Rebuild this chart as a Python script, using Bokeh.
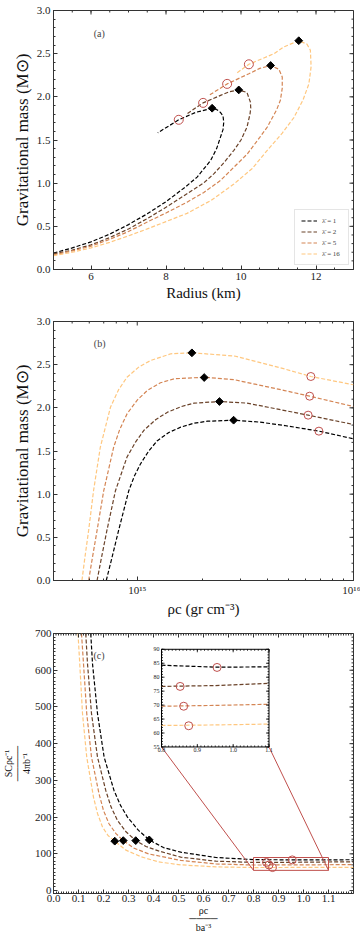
import numpy as np
from bokeh.plotting import figure
from bokeh.layouts import column
from bokeh.models import (Range1d, SingleIntervalTicker, FixedTicker,
                          PrintfTickFormatter, CustomJSTickFormatter, Label)
from bokeh.embed import file_html
from bokeh.resources import INLINE

# ---------------- data ----------------
lambda_labels = ["1", "2", "5", "16"]
colors = ["#000000", "#6a4229", "#d48554", "#ffc77f"]
red = "#c0504d"

# (a) mass-radius
R_1 = [5.0, 5.5, 6.0, 6.5, 7.0, 7.5, 8.0, 8.5, 8.83, 9.19, 9.35, 9.45, 9.52, 9.54, 9.52, 9.45, 9.36, 9.23, 8.79, 8.34, 7.78]
M_1 = [0.19, 0.25, 0.32, 0.41, 0.52, 0.645, 0.785, 0.95, 1.07, 1.263, 1.40, 1.53, 1.62, 1.706, 1.78, 1.82, 1.85, 1.868, 1.82, 1.734, 1.583]
R_2 = [5.0, 5.5, 6.0, 6.5, 7.0, 7.5, 8.0, 8.56, 9.0, 9.28, 9.55, 9.81, 10.0, 10.16, 10.24, 10.26, 10.25, 10.16, 9.94, 9.7, 9.47, 8.99, 8.55]
M_2 = [0.18, 0.225, 0.285, 0.37, 0.47, 0.59, 0.72, 0.877, 1.0, 1.11, 1.24, 1.38, 1.50, 1.65, 1.80, 1.87, 1.94, 2.05, 2.08, 2.06, 2.02, 1.93, 1.80]
R_5 = [5.0, 5.5, 6.0, 6.5, 7.0, 7.5, 8.0, 8.56, 9.0, 9.45, 9.8, 10.17, 10.5, 10.7, 10.95, 11.05, 11.1, 11.1, 11.01, 10.79, 10.5, 10.21, 9.63, 9.14]
M_5 = [0.17, 0.215, 0.27, 0.35, 0.44, 0.55, 0.655, 0.78, 0.89, 1.03, 1.18, 1.34, 1.53, 1.65, 1.85, 1.96, 2.10, 2.23, 2.32, 2.363, 2.33, 2.267, 2.15, 2.015]
R_16 = [5.0, 5.5, 6.0, 6.5, 7.0, 7.5, 8.0, 8.56, 9.2, 9.81, 10.3, 10.7, 11.1, 11.41, 11.65, 11.81, 11.87, 11.85, 11.76, 11.54, 11.15, 10.88, 10.21, 9.9]
M_16 = [0.16, 0.20, 0.25, 0.315, 0.39, 0.47, 0.555, 0.65, 0.80, 0.99, 1.17, 1.38, 1.58, 1.76, 1.96, 2.15, 2.35, 2.54, 2.61, 2.65, 2.58, 2.50, 2.377, 2.28]
a_max_R = [9.23, 9.94, 10.79, 11.54]
a_max_M = [1.868, 2.08, 2.363, 2.65]
a_circ_R = [8.34, 8.99, 9.63, 10.21]
a_circ_M = [1.734, 1.93, 2.15, 2.377]

# (b) mass - central density
rho_1 = [7.19e14, 7.65e14, 8.20e14, 9.14e14, 9.7e14, 1.035e15, 1.13e15, 1.239e15, 1.4e15, 1.589e15, 1.83e15, 2.118e15, 2.786e15, 3.7e15, 4.81e15, 6.92e15, 1.0e16]
Mb_1 = [0.0, 0.27, 0.58, 1.04, 1.21, 1.35, 1.50, 1.62, 1.715, 1.776, 1.822, 1.845, 1.857, 1.834, 1.795, 1.73, 1.641]
rho_2 = [6.52e14, 6.84e14, 7.24e14, 7.93e14, 8.97e14, 9.8e14, 1.074e15, 1.22e15, 1.380e15, 1.6e15, 1.832e15, 2.404e15, 3.2e15, 4.03e15, 6.17e15, 1.0e16]
Mb_2 = [0.0, 0.27, 0.58, 1.04, 1.43, 1.60, 1.74, 1.865, 1.95, 2.015, 2.054, 2.073, 2.055, 2.007, 1.915, 1.807]
rho_5 = [5.96e14, 6.21e14, 6.52e14, 7.00e14, 7.78e14, 8.3e14, 8.97e14, 1.0e15, 1.112e15, 1.28e15, 1.479e15, 2.042e15, 2.818e15, 4.81e15, 6.27e15, 1.0e16]
Mb_5 = [0.0, 0.27, 0.58, 1.04, 1.544, 1.75, 1.93, 2.09, 2.20, 2.29, 2.336, 2.355, 2.325, 2.20, 2.135, 2.015]
rho_16 = [5.55e14, 5.73e14, 5.96e14, 6.28e14, 6.75e14, 7.52e14, 8.2e14, 8.97e14, 1.02e15, 1.153e15, 1.429e15, 1.803e15, 2.818e15, 4.81e15, 6.35e15, 1.0e16]
Mb_16 = [0.0, 0.27, 0.58, 1.04, 1.544, 2.007, 2.21, 2.355, 2.475, 2.548, 2.626, 2.637, 2.60, 2.45, 2.363, 2.267]
b_max_rho = [2.79e15, 2.40e15, 2.04e15, 1.79e15]
b_max_M = [1.857, 2.073, 2.351, 2.637]
b_circ_rho = [6.92e15, 6.17e15, 6.27e15, 6.35e15]
b_circ_M = [1.73, 1.915, 2.135, 2.363]

# (c) entropy-like quantity vs scaled density
xc_1 = [0.149, 0.156, 0.176, 0.2025, 0.242, 0.268, 0.296, 0.34, 0.383, 0.44, 0.509, 0.65, 0.8, 0.95, 1.1, 1.2]
yc_1 = [700, 618, 482, 363.5, 272.7, 232, 200, 164, 138, 117, 104.5, 90, 84.3, 83.6, 83.7, 83.9]
xc_2 = [0.129, 0.136, 0.152, 0.176, 0.209, 0.23, 0.256, 0.29, 0.329, 0.37, 0.42, 0.509, 0.65, 0.8, 0.95, 1.1, 1.2]
yc_2 = [700, 618, 482, 363.5, 272.7, 228, 191, 160, 136, 120, 108, 91, 80, 76.7, 77.0, 77.8, 78.2]
xc_5 = [0.112, 0.12, 0.133, 0.152, 0.182, 0.2, 0.222, 0.25, 0.279, 0.32, 0.38, 0.509, 0.65, 0.8, 0.95, 1.1, 1.2]
yc_5 = [700, 618, 482, 363.5, 264, 218, 182, 155, 136, 116, 100, 82, 72.5, 69.6, 69.9, 70.3, 70.6]
xc_16 = [0.098, 0.105, 0.116, 0.133, 0.16, 0.176, 0.196, 0.218, 0.245, 0.29, 0.35, 0.42, 0.509, 0.65, 0.8, 0.95, 1.1, 1.2]
yc_16 = [700, 618, 482, 363.5, 254, 210, 173, 150, 134.5, 110, 92, 78, 70, 64.5, 62.7, 62.9, 63.2, 63.4]
c_max_x = [0.383, 0.329, 0.279, 0.245]
c_max_y = [138, 136, 136, 134.5]
c_circ_x = [0.955, 0.852, 0.862, 0.876]
c_circ_y = [83.5, 76.7, 69.6, 62.6]

a_series = [(R_1, M_1), (R_2, M_2), (R_5, M_5), (R_16, M_16)]
b_series = [(rho_1, Mb_1), (rho_2, Mb_2), (rho_5, Mb_5), (rho_16, Mb_16)]
c_series = [(xc_1, yc_1), (xc_2, yc_2), (xc_5, yc_5), (xc_16, yc_16)]

FONT = "Liberation Serif"
AXC = "#333333"
DASH = "4 2"
W = 360


def mirror_ticks(g, x_major, x_minor, y_major, y_minor, x_top, y_right):
    """inward ticks on the top and right frame edges"""
    for xs_t, ln in ((x_minor, 2), (x_major, 4)):
        g.ray(x=list(xs_t), y=[y_right[1]] * len(xs_t), length=ln, length_units="screen",
              angle=-np.pi / 2, line_color=AXC, line_width=1)
    for ys_t, ln in ((y_minor, 2), (y_major, 4)):
        g.ray(x=[x_top[1]] * len(ys_t), y=list(ys_t), length=ln, length_units="screen",
              angle=np.pi, line_color=AXC, line_width=1)


def style_axes(p, xticker, yticker, xfmt=None, yfmt=None):
    bx = p.below[0]
    ly = p.left[0]
    bx.ticker = xticker
    ly.ticker = yticker
    if xfmt is not None:
        bx.formatter = xfmt
    if yfmt is not None:
        ly.formatter = yfmt
    for ax in (bx, ly):
        ax.major_tick_in = 4
        ax.major_tick_out = 0
        ax.minor_tick_in = 2
        ax.minor_tick_out = 0
        ax.axis_line_color = AXC
        ax.major_tick_line_color = AXC
        ax.minor_tick_line_color = AXC
        ax.major_label_text_font = FONT
        ax.major_label_text_color = "#222222"
        ax.major_label_text_font_size = "11px"
        ax.major_label_standoff = 3
        ax.axis_label_text_font = FONT
        ax.axis_label_text_font_style = "normal"
        ax.axis_label_text_color = "#111111"
        ax.axis_label_standoff = 2
    p.grid.grid_line_color = None
    p.outline_line_color = AXC
    return bx, ly


def new_fig(height, xr, yr, top, bottom, xtype="linear"):
    return figure(width=W, height=height, x_range=xr, y_range=yr, x_axis_type=xtype,
                  output_backend="svg", toolbar_location=None,
                  min_border_left=53, min_border_right=7, min_border_top=top,
                  min_border_bottom=bottom, background_fill_color="white")

# ---------------- (a) ----------------
ax_a, ay_a = (5, 13), (0, 3)
pa = new_fig(308, Range1d(*ax_a), Range1d(*ay_a), 10, 39)
for (xs, ys), col, lab in zip(a_series, colors, lambda_labels):
    pa.line(xs, ys, line_color=col, line_width=1.2, line_dash=DASH,
            legend_label="\u03bb\u0304 = " + lab)
pa.scatter(a_max_R, a_max_M, marker="square", angle=np.pi / 4, size=5.5,
           fill_color="black", line_color="black")
pa.scatter(a_circ_R, a_circ_M, marker="circle", size=9, fill_color=None,
           line_color=red, line_width=1)
bx, ly = style_axes(pa, SingleIntervalTicker(interval=2, num_minor_ticks=4),
                    SingleIntervalTicker(interval=0.5, num_minor_ticks=5),
                    yfmt=PrintfTickFormatter(format="%.1f"))
bx.axis_label = "Radius (km)"
bx.axis_label_text_font_size = "15px"
ly.axis_label = "Gravitational mass (M\u2299)"
ly.axis_label_text_font_size = "17px"
mirror_ticks(pa, np.arange(6, 13, 2), np.arange(5, 13.01, 0.5),
             np.arange(0, 3.01, 0.5), np.arange(0, 3.01, 0.1), ax_a, ay_a)
leg = pa.legend[0]
leg.location = "bottom_right"
leg.label_text_font = FONT
leg.label_text_font_size = "7px"
leg.glyph_width = 16
leg.glyph_height = 9
leg.label_height = 9
leg.spacing = 2
leg.padding = 6
leg.margin = 4
leg.border_line_color = "#cccccc"
leg.background_fill_color = "white"
leg.background_fill_alpha = 1
pa.add_layout(Label(x=6.22, y=2.73, text="(a)", text_font=FONT, text_font_size="10px",
                    text_align="center", text_baseline="middle"))

# ---------------- (b) ----------------
ax_b, ay_b = (4.1e14, 1e16), (0, 3)
pb = new_fig(311, Range1d(*ax_b), Range1d(*ay_b), 13, 39, xtype="log")
for (xs, ys), col in zip(b_series, colors):
    pb.line(xs, ys, line_color=col, line_width=1.2, line_dash=DASH)
pb.scatter(b_max_rho, b_max_M, marker="square", angle=np.pi / 4, size=5.5,
           fill_color="black", line_color="black")
pb.scatter(b_circ_rho, b_circ_M, marker="circle", size=8, fill_color=None,
           line_color=red, line_width=1)
log_major = [1e15, 1e16]
log_minor = [m * 1e14 for m in range(5, 10)] + [m * 1e15 for m in range(2, 10)]
sup_fmt = CustomJSTickFormatter(code="""
const s = {"0":"\u2070","1":"\u00b9","2":"\u00b2","3":"\u00b3","4":"\u2074","5":"\u2075","6":"\u2076","7":"\u2077","8":"\u2078","9":"\u2079","-":"\u207b"};
const e = Math.round(Math.log10(tick));
return "10" + String(e).split("").map(c => s[c]).join("");
""")
bx, ly = style_axes(pb, FixedTicker(ticks=log_major, minor_ticks=log_minor),
                    SingleIntervalTicker(interval=0.5, num_minor_ticks=5),
                    xfmt=sup_fmt, yfmt=PrintfTickFormatter(format="%.1f"))
bx.axis_label = "\u03c1c (gr cm\u207b\u00b3)"
bx.axis_label_text_font_size = "15px"
ly.axis_label = "Gravitational mass (M\u2299)"
ly.axis_label_text_font_size = "17px"
mirror_ticks(pb, log_major, log_minor, np.arange(0, 3.01, 0.5), np.arange(0, 3.01, 0.1),
             ax_b, ay_b)
pb.add_layout(Label(x=6.7e14, y=2.74, text="(b)", text_font=FONT, text_font_size="10px",
                    text_align="center", text_baseline="middle"))

# ---------------- (c) ----------------
ax_c, ay_c = (0, 1.2), (-8, 700)
pc = new_fig(320, Range1d(*ax_c), Range1d(*ay_c), 14, 46)
for (xs, ys), col in zip(c_series, colors):
    pc.line(xs, ys, line_color=col, line_width=1.2, line_dash=DASH)
pc.scatter(c_max_x, c_max_y, marker="square", angle=np.pi / 4, size=5.5,
           fill_color="black", line_color="black")
pc.scatter(c_circ_x, c_circ_y, marker="circle", size=8, fill_color=None,
           line_color=red, line_width=1)
bx, ly = style_axes(pc, SingleIntervalTicker(interval=0.1, num_minor_ticks=10),
                    SingleIntervalTicker(interval=100, num_minor_ticks=10),
                    xfmt=PrintfTickFormatter(format="%.1f"), yfmt=PrintfTickFormatter(format="%d"))
bx.major_label_standoff = 1
bx.axis_label = "\u03c1c\n\u2500\u2500\u2500\u2500\nba\u207b\u00b3"
bx.axis_label_text_font_size = "10px"
bx.axis_label_text_line_height = 0.8
bx.axis_label_standoff = 0
ly.major_label_standoff = 2
ly.axis_label = "SC\u03c1c\u207b\u00b9\n\u2500\u2500\u2500\u2500\u2500\n4\u03c0b\u207b\u00b9"
ly.axis_label_text_font_size = "10px"
ly.axis_label_text_line_height = 0.8
ly.axis_label_standoff = 0
mirror_ticks(pc, np.round(np.arange(0, 1.201, 0.1), 2), np.round(np.arange(0, 1.201, 0.01), 3),
             np.arange(0, 701, 100), np.arange(0, 701, 10), ax_c, ay_c)
pc.add_layout(Label(x=0.182, y=641, text="(c)", text_font=FONT, text_font_size="10px",
                    text_align="center", text_baseline="middle"))

# zoom window and inset placement
zoom_x = (0.8, 1.1)
zoom_y = (55, 90)
inset_x = (0.432, 0.862)
inset_y = (391, 657)
pc.quad(left=zoom_x[0], right=zoom_x[1], bottom=zoom_y[0], top=zoom_y[1],
        fill_color=None, line_color=red, line_width=1)
pc.segment(x0=[inset_x[0], inset_x[1]], y0=[inset_y[0], inset_y[0]],
           x1=[zoom_x[0], zoom_x[1]], y1=[zoom_y[0], zoom_y[0]],
           line_color=red, line_width=1)

sub = pc.subplot(x_source=Range1d(*zoom_x), y_source=Range1d(*zoom_y),
                 x_target=Range1d(*inset_x), y_target=Range1d(*inset_y))
sub.quad(left=zoom_x[0], right=zoom_x[1], bottom=zoom_y[0], top=zoom_y[1],
         fill_color="white", line_color="black", line_width=1)
for (xs, ys), col in zip(c_series, colors):
    xs_a = np.array(xs)
    ys_a = np.array(ys)
    m = (xs_a >= zoom_x[0]) & (xs_a <= zoom_x[1])
    sub.line(xs_a[m], ys_a[m], line_color=col, line_width=1.2, line_dash=DASH)
sub.scatter(c_circ_x, c_circ_y, marker="circle", size=8, fill_color=None,
            line_color=red, line_width=1)

ix_major = [0.8, 0.9, 1.0, 1.1]
ix_labels = ["0.8", "0.9", "1.0", "1.1"]
iy_major = [55, 60, 65, 70, 75, 80, 85, 90]
iy_labels = [str(v) for v in iy_major]
ix_minor = list(np.round(np.arange(zoom_x[0], zoom_x[1] + 1e-9, 0.01), 3))
iy_minor = list(range(zoom_y[0], zoom_y[1] + 1))
for xs_t, ln in ((ix_minor, 1.5), (ix_major, 3)):
    sub.ray(x=xs_t, y=[zoom_y[0]] * len(xs_t), length=ln, length_units="screen",
            angle=np.pi / 2, line_color="black", line_width=0.8)
    sub.ray(x=xs_t, y=[zoom_y[1]] * len(xs_t), length=ln, length_units="screen",
            angle=-np.pi / 2, line_color="black", line_width=0.8)
for ys_t, ln in ((iy_minor, 1.5), (iy_major, 3)):
    sub.ray(x=[zoom_x[0]] * len(ys_t), y=ys_t, length=ln, length_units="screen",
            angle=0, line_color="black", line_width=0.8)
    sub.ray(x=[zoom_x[1]] * len(ys_t), y=ys_t, length=ln, length_units="screen",
            angle=np.pi, line_color="black", line_width=0.8)
sub.text(x=[zoom_x[0]] * len(iy_major), y=iy_major, text=iy_labels, x_offset=-2,
         text_align="right", text_baseline="middle", text_font_size="6px",
         text_font={"value": FONT}, text_color="#222222")
sub.text(x=ix_major, y=[zoom_y[0]] * len(ix_major), text=ix_labels, y_offset=1,
         text_align="center", text_baseline="top", text_font_size="6px",
         text_font={"value": FONT}, text_color="#222222")

layout = column(pa, pb, pc, spacing=0)
open("out.html", "w").write(file_html(layout, INLINE))
